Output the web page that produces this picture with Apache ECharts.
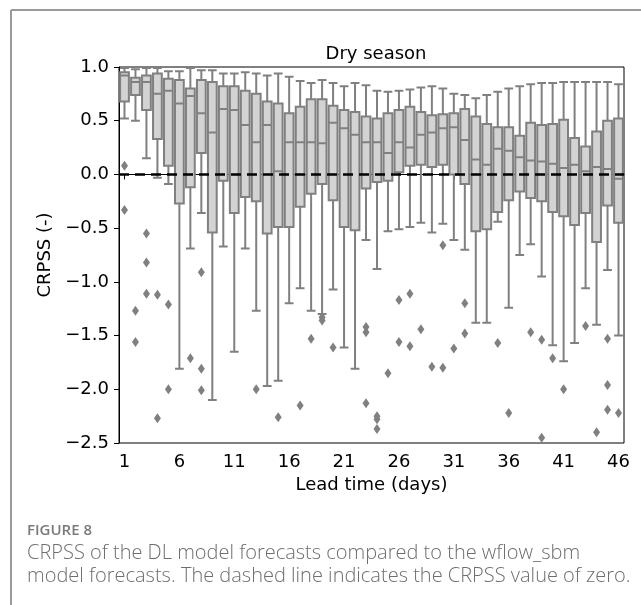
<!DOCTYPE html>
<html>
<head>
<meta charset="utf-8">
<script src="https://cdn.jsdelivr.net/npm/echarts@6/dist/echarts.min.js"></script>
<style>
html,body{margin:0;padding:0;background:#fff;}
#chart{width:641px;height:605px;}
</style>
</head>
<body>
<div id="chart"></div>
<script>
// Lead times (days)
var categories = ['1','2','3','4','5','6','7','8','9','10','11','12','13','14','15','16','17','18','19','20','21','22','23','24','25','26','27','28','29','30','31','32','33','34','35','36','37','38','39','40','41','42','43','44','45','46'];

// Box statistics per lead time: lower whisker, Q1, median, Q3, upper whisker
var whiskerLow = [0.52,0.50,0.15,-0.03,-0.09,-1.81,-0.69,-0.36,-2.10,-0.67,-1.65,-0.69,-1.27,-1.97,-1.92,-1.20,-1.06,-1.27,-1.30,-1.07,-1.61,-1.81,-0.61,-0.88,-0.53,-0.51,-0.49,-0.45,-0.54,-0.46,-0.61,-0.70,-1.38,-1.38,-0.44,-1.24,-0.75,-0.65,-0.95,-1.59,-1.74,-1.57,-1.06,-1.40,-0.89,-1.50];
var q1 = [0.68,0.74,0.60,0.33,0.08,-0.27,-0.12,0.20,-0.54,-0.06,-0.36,-0.21,-0.25,-0.55,-0.49,-0.49,-0.30,-0.18,-0.09,-0.24,-0.49,-0.52,-0.13,-0.07,-0.06,0.02,0.08,0.09,0.07,0.09,0.00,-0.09,-0.53,-0.51,-0.35,-0.24,-0.16,-0.22,-0.25,-0.35,-0.39,-0.47,-0.36,-0.63,-0.29,-0.45];
var median = [0.92,0.86,0.86,0.75,0.78,0.66,0.73,0.57,0.39,0.61,0.60,0.46,0.30,0.46,0.03,0.30,0.30,0.30,0.29,0.48,0.43,0.37,0.30,0.30,0.20,0.30,0.25,0.37,0.39,0.43,0.44,0.32,0.14,0.09,0.24,0.22,0.16,0.13,0.12,0.10,0.06,0.09,0.03,0.07,0.05,-0.04];
var q3 = [0.95,0.90,0.92,0.94,0.89,0.88,0.80,0.88,0.86,0.82,0.82,0.78,0.75,0.68,0.66,0.57,0.63,0.70,0.70,0.64,0.60,0.58,0.54,0.52,0.57,0.60,0.63,0.58,0.55,0.56,0.57,0.61,0.54,0.47,0.44,0.44,0.36,0.48,0.46,0.47,0.51,0.34,0.26,0.40,0.50,0.52];
var whiskerHigh = [0.99,0.98,0.99,0.99,0.96,0.96,0.99,0.97,0.97,0.94,0.94,0.95,0.94,0.92,0.94,0.91,0.87,0.85,0.88,0.85,0.82,0.85,0.83,0.78,0.77,0.78,0.79,0.81,0.82,0.80,0.75,0.74,0.71,0.74,0.77,0.80,0.82,0.84,0.85,0.85,0.86,0.86,0.86,0.86,0.86,0.84];

// Outliers: lead time and CRPSS value
var outlierDay = ['1','1','2','2','3','3','3','4','4','5','5','7','8','8','8','13','15','17','18','19','19','20','23','23','23','24','24','24','25','26','26','27','27','28','29','30','30','31','32','32','35','36','38','39','39','40','41','43','44','45','45','45','46'];
var outlierValue = [0.08,-0.33,-1.27,-1.56,-0.55,-0.82,-1.11,-1.12,-2.27,-1.21,-2.00,-1.71,-0.91,-1.81,-2.01,-2.00,-2.26,-2.15,-1.53,-1.33,-1.36,-1.61,-1.42,-1.47,-2.13,-2.25,-2.28,-2.37,-1.85,-1.17,-1.56,-1.11,-1.60,-1.44,-1.79,-0.66,-1.80,-1.62,-1.20,-1.48,-1.57,-2.22,-1.47,-1.54,-2.45,-1.71,-2.00,-1.41,-2.40,-1.53,-1.96,-2.19,-2.22];

var yTickLabels = ['\u22122.5','\u22122.0','\u22121.5','\u22121.0','\u22120.5','0.0','0.5','1.0'];
var yTickValues = [-2.5,-2.0,-1.5,-1.0,-0.5,0.0,0.5,1.0];

var boxData = categories.map(function(c,i){ return [whiskerLow[i], q1[i], median[i], q3[i], whiskerHigh[i]]; });
var outlierData = outlierDay.map(function(d,i){ return [d, outlierValue[i]]; });

var FONT = 'DejaVu Sans';
var chart = echarts.init(document.getElementById('chart'), null, {renderer:'canvas'});
chart.setOption({
  animation:false,
  backgroundColor:'#ffffff',
  title:{
    text:'Dry season', left:371, top:40, textAlign:'center',
    textStyle:{fontFamily:FONT, fontSize:18, fontWeight:'normal', color:'#000'}
  },
  grid:{left:119, right:17, top:67, bottom:162, show:true, borderColor:'#000', borderWidth:1, backgroundColor:'transparent'},
  xAxis:{
    type:'category', data:categories, boundaryGap:true,
    name:'Lead time (days)', nameLocation:'middle', nameGap:32,
    nameTextStyle:{fontFamily:FONT, fontSize:18, color:'#000'},
    axisLine:{lineStyle:{color:'#000', width:1}},
    axisTick:{show:true, interval:4, alignWithLabel:true, length:5, lineStyle:{color:'#000'}},
    axisLabel:{interval:4, margin:10, fontFamily:FONT, fontSize:18, color:'#000'},
    splitLine:{show:false}
  },
  yAxis:{
    type:'value', min:-2.5, max:1.0, interval:0.5,
    name:'CRPSS (-)', nameLocation:'middle', nameGap:63, nameRotate:90,
    nameTextStyle:{fontFamily:FONT, fontSize:18, color:'#000'},
    axisLine:{show:true, lineStyle:{color:'#000', width:1}},
    axisTick:{show:true, length:5, lineStyle:{color:'#000'}},
    axisLabel:{margin:10, fontFamily:FONT, fontSize:18, color:'#000',
      formatter:function(v){ var k = yTickValues.indexOf(Math.round(v*10)/10); return k>=0 ? yTickLabels[k] : ''; }},
    splitLine:{show:false}
  },
  series:[
    {
      type:'boxplot', data:boxData, boxWidth:['80%','80%'],
      itemStyle:{color:'#d3d3d3', borderColor:'#808080', borderWidth:2},
      emphasis:{disabled:true},
      markLine:{
        silent:true, symbol:'none', animation:false,
        label:{show:false},
        lineStyle:{color:'#000', type:[10,6], width:2.5},
        data:[{yAxis:0}]
      },
      z:2
    },
    {
      type:'scatter', data:outlierData, symbol:'diamond', symbolSize:[7,10],
      itemStyle:{color:'#808080', opacity:1},
      z:3
    }
  ],
  graphic:[
    {type:'line', shape:{x1:11, y1:10, x2:641, y2:10}, style:{stroke:'#9a9a9a', lineWidth:2}},
    {type:'line', shape:{x1:11, y1:10, x2:11, y2:605}, style:{stroke:'#9a9a9a', lineWidth:2}},
    {type:'text', left:27, top:523, style:{text:'FIGURE 8', font:'600 15px "Open Sans"', fill:'#7a7a7a'}},
    {type:'text', left:27, top:543, style:{text:'CRPSS of the DL model forecasts compared to the wflow_sbm', font:'300 20px "Open Sans"', fill:'#6e6e6e'}},
    {type:'text', left:27, top:566, style:{text:'model forecasts. The dashed line indicates the CRPSS value of zero.', font:'300 20px "Open Sans"', fill:'#6e6e6e'}}
  ]
});
</script>
</body>
</html>
